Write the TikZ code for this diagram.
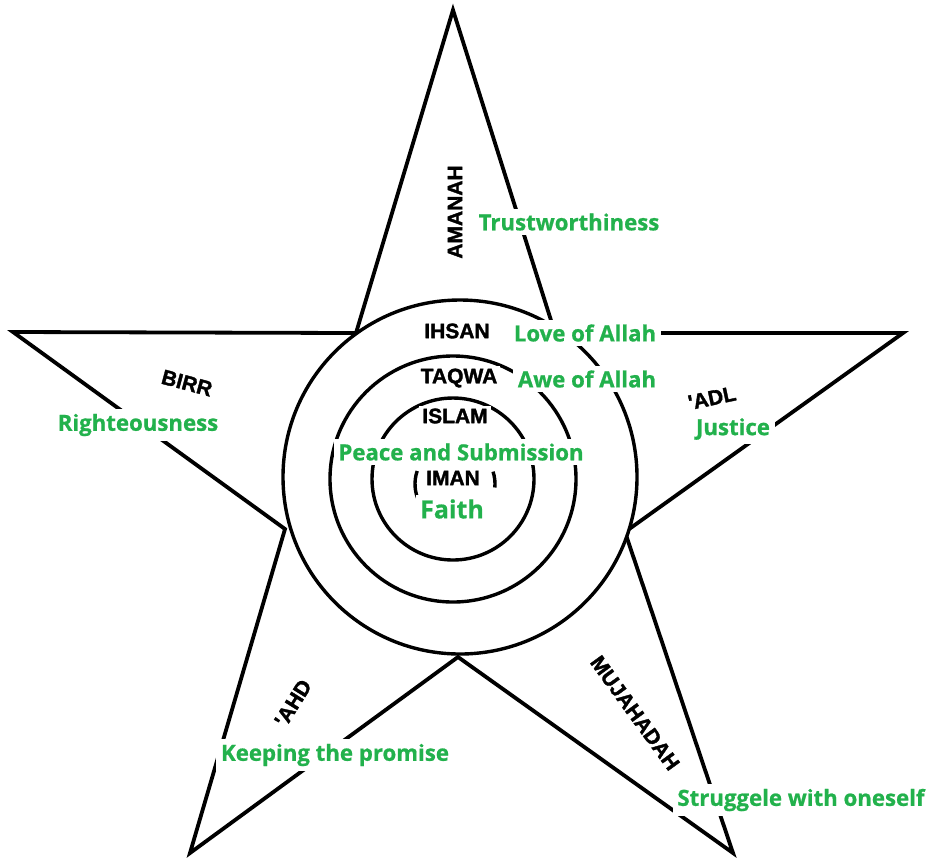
\documentclass[tikz,border=0pt]{standalone}
\usepackage{fontspec}
\usepackage{tikz}
\usetikzlibrary{positioning}
\newfontfamily\tagfont{Liberation Sans}[BoldFeatures={FakeBold=1.6}]
\newfontfamily\glossfont{Open Sans}[BoldFeatures={FakeBold=0.8}]
\definecolor{paintgreen}{RGB}{34,177,76}
\tikzset{
  virtue/.style={font=\tagfont\bfseries\fontsize{10.5}{12}\selectfont,fill=white,inner sep=1.5pt},
  tilted/.style={font=\tagfont\bfseries\fontsize{10.5}{12}\selectfont,inner sep=0.5pt},
  gloss/.style={font=\glossfont\bfseries\fontsize{11.1}{13}\selectfont,text=paintgreen,fill=white,inner sep=2.3pt},
  outline/.style={line width=1.9pt,line join=miter},
  ring/.style={line width=1.7pt}
}

\begin{document}
\begin{tikzpicture}[x=0.5pt,y=-0.5pt]
\useasboundingbox (0,0) rectangle (931,858);
% ---------- the star ----------
\coordinate (tipN)  at (453,10);
\coordinate (tipE)  at (903,333);
\coordinate (tipSE) at (733,853);
\coordinate (tipSW) at (190,853);
\coordinate (tipW)  at (13,332);
\coordinate (inNE)  at (555,333);
\coordinate (inSE)  at (625,532);
\coordinate (inS)   at (458,657);
\coordinate (inSW)  at (285,529);
\coordinate (inNW)  at (356,333);
\draw[outline] (tipW) -- (inNW) -- (tipN) -- (inNE) -- (tipE) -- (inSE)
   -- (tipSE) -- (inS) -- (tipSW) -- (inSW) -- cycle;
% ---------- the rings ----------
\draw[ring,fill=white] (460,477) circle[radius=177];
\draw[ring] (453,479) circle[radius=123];
\draw[ring] (453,479) circle[radius=81];
\draw[ring] (455,484) ++(153:40) arc[start angle=153,end angle=199,radius=40];
\draw[ring] (455,484) ++(-18:40) arc[start angle=-18,end angle=5,radius=40];
% ---------- black names ----------
\foreach \nm/\x/\y/\lb in {ihsan/457/331/IHSAN, taqwa/459/378/TAQWA,
                           islam/455/416/ISLAM, iman/453/478/IMAN}{
  \node[virtue] (n-\nm) at (\x,\y) {\lb};
}
\foreach \nm/\x/\y/\rot/\lb in {amanah/455/212/90/AMANAH, birr/187/383/-15/BIRR,
                                adl/712/398/12/{'ADL}, ahd/293/703/58/{'AHD},
                                mujahadah/635/713/-54/MUJAHADAH}{
  \node[tilted,rotate=\rot] (n-\nm) at (\x,\y) {\lb};
}
% ---------- green meanings ----------
\foreach \nm/\x/\y/\lb in {trust/569/222/Trustworthiness, love/585/333/Love of Allah,
                           awe/587/379/Awe of Allah, peace/461/452/Peace and Submission,
                           righteous/138/425/Righteousness, justice/733/429/Justice,
                           promise/335/755/Keeping the promise,
                           struggle/801/800/Struggele with oneself}{
  \node[gloss] (g-\nm) at (\x,\y) {\lb};
}
\node[gloss,font=\glossfont\bfseries\fontsize{12.5}{14}\selectfont] (g-faith) at (452,509) {Faith};
\end{tikzpicture}
\end{document}
